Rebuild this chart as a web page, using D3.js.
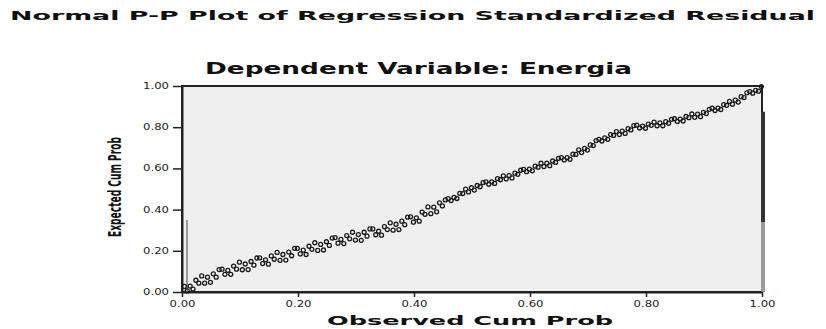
<!DOCTYPE html>
<html><head><meta charset="utf-8">
<script src="https://cdn.jsdelivr.net/npm/d3@7/dist/d3.min.js"></script>
<style>body{margin:0;background:#fff}svg{display:block}</style>
</head><body>
<svg id="c" width="826" height="329"></svg>
<script>
const title = "Normal P-P Plot of Regression Standardized Residual";
const subtitle = "Dependent Variable: Energia";
const xTitle = "Observed Cum Prob";
const yTitle = "Expected Cum Prob";
const tickValues = [0, 0.2, 0.4, 0.6, 0.8, 1.0];
const tickLabels = ["0.00", "0.20", "0.40", "0.60", "0.80", "1.00"];

const observed = [
.004,.009,.014,.019,.024,.029,.034,.039,.044,.049,
.054,.059,.064,.069,.074,.079,.084,.089,.094,.099,
.104,.109,.114,.119,.124,.129,.134,.139,.144,.149,
.154,.159,.164,.169,.174,.179,.184,.189,.194,.199,
.204,.209,.214,.219,.224,.229,.234,.239,.244,.249,
.254,.259,.264,.269,.274,.279,.284,.289,.294,.299,
.304,.309,.314,.319,.324,.329,.334,.339,.344,.349,
.354,.359,.364,.369,.374,.379,.384,.389,.394,.399,
.404,.409,.414,.419,.424,.429,.434,.439,.444,.449,
.454,.459,.464,.469,.474,.479,.484,.489,.494,.499,
.504,.509,.514,.519,.524,.529,.534,.539,.544,.549,
.554,.559,.564,.569,.574,.579,.584,.589,.594,.599,
.604,.609,.614,.619,.624,.629,.634,.639,.644,.649,
.654,.659,.664,.669,.674,.679,.684,.689,.694,.699,
.704,.709,.714,.719,.724,.729,.734,.739,.744,.749,
.754,.759,.764,.769,.774,.779,.784,.789,.794,.799,
.804,.809,.814,.819,.824,.829,.834,.839,.844,.849,
.854,.859,.864,.869,.874,.879,.884,.889,.894,.899,
.904,.909,.914,.919,.924,.929,.934,.939,.944,.949,
.954,.959,.964,.969,.974,.979,.984,.989,.994,.999];
const expected = [
.027,.005,.029,.014,.057,.043,.078,.043,.072,.047,
.088,.072,.109,.111,.086,.105,.086,.126,.111,.145,
.108,.136,.109,.148,.130,.165,.166,.138,.156,.135,
.175,.159,.192,.154,.182,.155,.194,.176,.212,.212,
.185,.203,.182,.222,.207,.239,.202,.231,.204,.244,
.226,.262,.264,.237,.255,.235,.274,.258,.290,.252,
.279,.251,.290,.271,.306,.306,.278,.295,.276,.317,
.303,.336,.300,.329,.303,.344,.327,.363,.365,.339,
.360,.344,.388,.377,.413,.380,.412,.389,.433,.418,
.447,.453,.444,.459,.454,.479,.478,.499,.486,.506,
.495,.517,.511,.531,.535,.523,.535,.527,.550,.545,
.564,.549,.565,.554,.577,.571,.591,.595,.584,.596,
.588,.611,.606,.625,.609,.625,.613,.636,.629,.649,
.652,.641,.652,.644,.669,.668,.690,.677,.697,.689,
.714,.711,.735,.741,.733,.748,.741,.764,.760,.779,
.764,.781,.770,.793,.787,.808,.810,.796,.805,.795,
.815,.809,.825,.807,.821,.807,.827,.819,.838,.841,
.828,.839,.830,.852,.846,.864,.848,.863,.851,.872,
.866,.887,.892,.881,.893,.886,.910,.906,.925,.912,
.931,.922,.948,.944,.967,.973,.965,.979,.975,.997];

const svg = d3.select("#c");
const L = 182, R = 762, T = 86, B = 292;
const x = d3.scaleLinear().domain([0,1]).range([L,R]);
const y = d3.scaleLinear().domain([0,1]).range([B,T]);

// titles
svg.append("text").attr("x",10).attr("y",20).attr("textLength",805).attr("lengthAdjust","spacingAndGlyphs")
  .attr("font-family","DejaVu Sans").attr("font-weight","bold").attr("font-size",13).attr("fill","#111").text(title);
svg.append("text").attr("x",205).attr("y",74).attr("textLength",427).attr("lengthAdjust","spacingAndGlyphs")
  .attr("font-family","DejaVu Sans").attr("font-weight","bold").attr("font-size",15).attr("fill","#111").text(subtitle);

// plot background
svg.append("rect").attr("x",x(0)).attr("y",y(1)).attr("width",x(1)-x(0)).attr("height",y(0)-y(1))
  .attr("fill","#efefef").attr("stroke","#222").attr("stroke-width",2);

// scan artefact bars
svg.append("line").attr("x1",x(1)+1).attr("x2",x(1)+1).attr("y1",y(0.875)).attr("y2",y(0.34))
  .attr("stroke","#333").attr("stroke-width",4);
svg.append("line").attr("x1",x(1)+1).attr("x2",x(1)+1).attr("y1",y(0.34)).attr("y2",y(0))
  .attr("stroke","#999").attr("stroke-width",4);
svg.append("line").attr("x1",x(0)+5).attr("x2",x(0)+5).attr("y1",y(0.35)).attr("y2",y(0))
  .attr("stroke","#999").attr("stroke-width",2);

// axes
const xa = svg.append("g").attr("transform",`translate(0,${B})`)
  .call(d3.axisBottom(x).tickValues(tickValues).tickFormat((d,i)=>tickLabels[i]).tickSize(5).tickSizeOuter(0));
const ya = svg.append("g").attr("transform",`translate(${L},0)`)
  .call(d3.axisLeft(y).tickValues(tickValues).tickFormat((d,i)=>tickLabels[i]).tickSize(9).tickSizeOuter(0));
[xa,ya].forEach(g=>{
  g.select(".domain").attr("stroke","#222").attr("stroke-width",2);
  g.selectAll(".tick line").attr("stroke","#222").attr("stroke-width",1.5);
  g.selectAll("text").attr("font-family","DejaVu Sans").attr("font-size",8).attr("fill","#222")
    .attr("textLength",26).attr("lengthAdjust","spacingAndGlyphs");
});
xa.selectAll("text").attr("dy","0.9em");
ya.selectAll("text").attr("dx","-1");

// points
svg.append("g").selectAll("circle").data(observed).join("circle")
  .attr("cx",(d)=>x(d)).attr("cy",(d,i)=>y(expected[i])).attr("r",2)
  .attr("fill","none").attr("stroke","#1a1a1a").attr("stroke-width",1.3);

// axis titles
svg.append("text").attr("x",327).attr("y",325).attr("textLength",286).attr("lengthAdjust","spacingAndGlyphs")
  .attr("font-family","DejaVu Sans").attr("font-weight","bold").attr("font-size",12).attr("fill","#111").text(xTitle);
svg.append("text").attr("transform","translate(121,187) rotate(-90)").attr("text-anchor","middle")
  .attr("textLength",100).attr("lengthAdjust","spacingAndGlyphs")
  .attr("font-family","DejaVu Sans").attr("font-weight","bold").attr("font-size",17).attr("fill","#111").text(yTitle);
</script>
</body></html>
